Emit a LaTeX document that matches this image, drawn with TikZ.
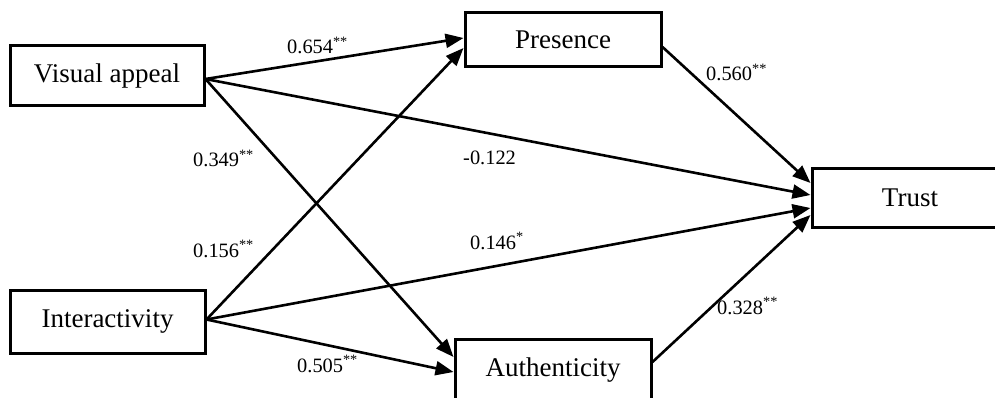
\documentclass[tikz,border=0pt]{standalone}
\usepackage{fontspec}
\setmainfont{Liberation Serif}
\usetikzlibrary{arrows.meta,calc}
\begin{document}
\begin{tikzpicture}[x=1pt,y=-1pt,
  box/.style={draw,line width=3pt,inner sep=0pt,font=\fontsize{27}{31}\selectfont},
  conn/.style={line width=2.6pt,-{Triangle[length=18pt,width=14pt]}},
  lab/.style={anchor=base west,inner sep=0pt,font=\fontsize{20.4}{24}\selectfont}]
\useasboundingbox (0,0) rectangle (995,398);
\node[box,minimum width=194pt,minimum height=60pt] (va) at (107,76) {Visual appeal};
\node[box,minimum width=195pt,minimum height=63pt] (int) at (107.5,321.5) {Interactivity};
\node[box,minimum width=196pt,minimum height=54pt] (pres) at (563,40) {Presence};
\node[box,minimum width=196pt,minimum height=58pt] (trust) at (910,198) {Trust};
\node[box,minimum width=196pt,minimum height=62pt] (auth) at (553,370) {Authenticity};
% connectors
\draw[conn] ($(va.east)+(0,3)$) -- ($(pres.west)+(0,-2)$);
\draw[conn] ($(va.east)+(0,3)$) -- ($(trust.west)+(0,-3)$);
\draw[conn] ($(va.east)+(0,3)$) -- ($(auth.west)+(0,-13)$);
\draw[conn] ($(int.east)+(0,-2)$) -- ($(pres.west)+(0,8)$);
\draw[conn] ($(int.east)+(0,-2)$) -- ($(trust.west)+(0,10)$);
\draw[conn] ($(int.east)+(0,-2)$) -- ($(auth.west)+(0,2)$);
\draw[conn] ($(pres.east)+(0,7)$) -- ($(trust.west)+(0,-15)$);
\draw[conn] ($(auth.east)+(0,-8)$) -- ($(trust.west)+(0,17)$);
% labels
\node[lab] (l1) at (287,54) {0.654\textsuperscript{**}};
\node[lab] (l2) at (193,167) {0.349\textsuperscript{**}};
\node[lab] (l3) at (193,257) {0.156\textsuperscript{**}};
\node[lab] (l4) at (463,165) {-0.122};
\node[lab] (l5) at (470,249) {0.146\textsuperscript{*}};
\node[lab] (l6) at (717,314) {0.328\textsuperscript{**}};
\node[lab] (l7) at (297,372) {0.505\textsuperscript{**}};
\node[lab] (l8) at (706,81) {0.560\textsuperscript{**}};
\end{tikzpicture}
\end{document}
